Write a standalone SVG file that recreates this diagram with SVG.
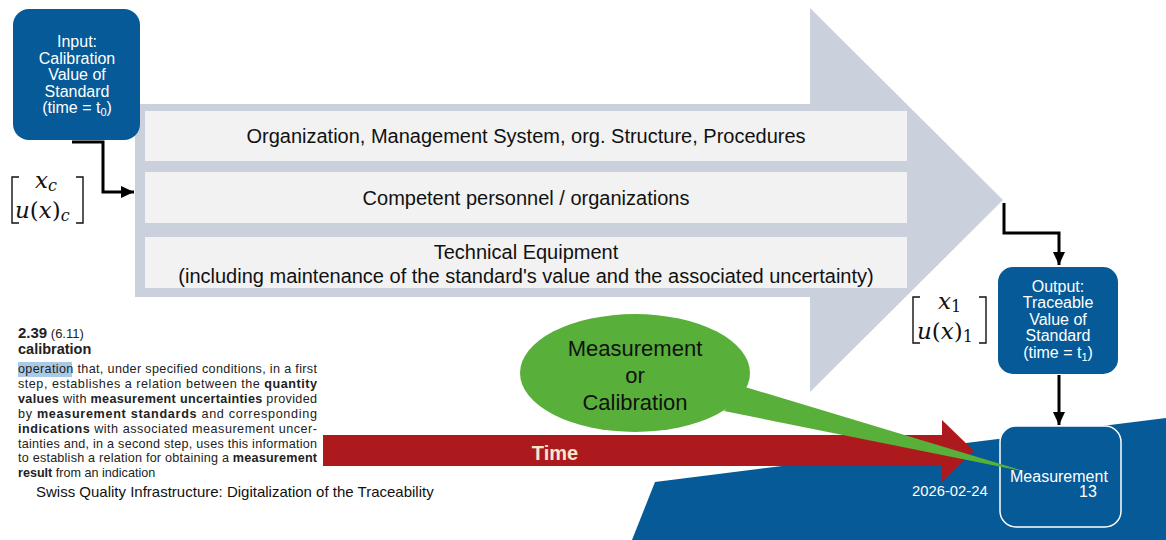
<svg xmlns="http://www.w3.org/2000/svg" width="1166" height="540" viewBox="0 0 1166 540">
<defs>
<style>
.sans{font-family:"Liberation Sans",Arial,sans-serif}
.math{font-family:"DejaVu Serif","Liberation Serif",serif;font-style:italic;font-size:23px;fill:#111}
.up{font-style:normal}
.box{fill:#055A97}
.wt{fill:#fff;font-size:16px;text-anchor:middle}
.bar{fill:#F2F2F2}
.bt{fill:#111;font-size:20px;text-anchor:middle}
.conn{fill:none;stroke:#000;stroke-width:3}
.brk{fill:none;stroke:#111;stroke-width:1.4}
.def{font-size:12.6px;fill:#222}
.b{font-weight:bold}
</style>
<marker id="ah" markerUnits="userSpaceOnUse" markerWidth="14" markerHeight="14" viewBox="0 0 14 14" refX="13" refY="7" orient="auto">
<path d="M0,1 L13,7 L0,13 Z" fill="#000"/>
</marker>
</defs>
<rect width="1166" height="540" fill="#fff"/>

<g id="background">
<polygon points="655,482 1166,418 1166,540 632,540" fill="#055A97"/>
</g>

<g id="process-arrow">
<polygon points="135,104 810,104 810,8 1003,200 810,392 810,297 135,297" fill="#CAD0DC"/>
</g>

<g id="bar-organization">
<rect class="bar" x="145" y="111" width="762" height="50"/>
<text class="sans bt" x="526" y="143">Organization, Management System, org. Structure, Procedures</text>
</g>
<g id="bar-personnel">
<rect class="bar" x="145" y="172" width="762" height="51"/>
<text class="sans bt" x="526" y="205">Competent personnel / organizations</text>
</g>
<g id="bar-equipment">
<rect class="bar" x="145" y="237" width="762" height="51"/>
<text class="sans bt" x="526" y="259">Technical Equipment</text>
<text class="sans bt" x="526" y="283">(including maintenance of the standard's value and the associated uncertainty)</text>
</g>

<g id="input-node">
<rect class="box" x="13" y="9" width="127" height="131" rx="16"/>
<text class="sans wt" x="77" y="47">Input:</text>
<text class="sans wt" x="77" y="64">Calibration</text>
<text class="sans wt" x="77" y="80">Value of</text>
<text class="sans wt" x="77" y="97">Standard</text>
<text class="sans wt" x="77" y="113">(time = t<tspan font-size="11" dy="3">0</tspan><tspan dy="-3">)</tspan></text>
</g>

<g id="input-matrix">
<path class="brk" d="M19,177 H12 V223 H19 M76,177 H83 V223 H76"/>
<text class="math" x="35" y="188">x<tspan font-size="16" dy="3">c</tspan></text>
<text class="math" x="15" y="218">u<tspan class="up">(</tspan>x<tspan class="up">)</tspan><tspan font-size="16" dy="3">c</tspan></text>
</g>

<g id="output-node">
<rect class="box" x="998" y="267" width="120" height="107" rx="15"/>
<text class="sans wt" x="1058" y="292">Output:</text>
<text class="sans wt" x="1058" y="308">Traceable</text>
<text class="sans wt" x="1058" y="325">Value of</text>
<text class="sans wt" x="1058" y="341">Standard</text>
<text class="sans wt" x="1058" y="358">(time = t<tspan font-size="11" dy="3">1</tspan><tspan dy="-3">)</tspan></text>
</g>

<g id="output-matrix">
<path class="brk" d="M920,297 H913 V343 H920 M979,297 H986 V343 H979"/>
<text class="math" x="938" y="309">x<tspan class="up" font-size="16" dy="3">1</tspan></text>
<text class="math" x="917" y="339">u<tspan class="up">(</tspan>x<tspan class="up">)</tspan><tspan class="up" font-size="16" dy="3">1</tspan></text>
</g>

<g id="measurement-node">
<rect x="1000" y="426" width="121" height="101" rx="16" fill="#055A97" stroke="#fff" stroke-width="1.5"/>
</g>

<g id="time-arrow">
<polygon points="323,435 942,435 942,420 974,451 942,482 942,466 323,466" fill="#AD1A1E"/>
<text class="sans b" x="555" y="460" font-size="20" fill="#F6E7CC" text-anchor="middle">Time</text>
</g>

<g id="callout">
<polygon points="745,387 1027,472 724,411" fill="#58AF3A"/>
<ellipse cx="635" cy="373" rx="115" ry="59" fill="#58AF3A"/>
<text class="sans" x="635" y="356" font-size="22" fill="#111" text-anchor="middle">Measurement</text>
<text class="sans" x="635" y="383" font-size="22" fill="#111" text-anchor="middle">or</text>
<text class="sans" x="635" y="410" font-size="22" fill="#111" text-anchor="middle">Calibration</text>
</g>

<g id="measurement-label">
<text class="sans" x="1010" y="482" font-size="16" fill="#fff">Measurement</text>
<text class="sans" x="1079" y="497" font-size="16" fill="#fff">13</text>
</g>

<g id="connectors">
<path class="conn" d="M72,142 H103 V192 H134" marker-end="url(#ah)"/>
<path class="conn" d="M1004,203 V233 H1059 V265" marker-end="url(#ah)"/>
<path class="conn" d="M1059,375 V425" marker-end="url(#ah)"/>
</g>

<g id="definition">
<rect x="18" y="362" width="54" height="15" fill="#A9C9E6"/>
<text class="sans" x="18" y="338" fill="#222"><tspan class="b" font-size="15">2.39</tspan><tspan font-size="13"> (6.11)</tspan></text>
<text class="sans b" x="18" y="354" font-size="14.5" fill="#222">calibration</text>
<text class="sans def" x="18" y="373" textLength="299" lengthAdjust="spacing">operation that, under specified conditions, in a first</text>
<text class="sans def" x="18" y="388" textLength="299" lengthAdjust="spacing">step, establishes a relation between the <tspan class="b">quantity</tspan></text>
<text class="sans def" x="18" y="403" textLength="299" lengthAdjust="spacing"><tspan class="b">values</tspan> with <tspan class="b">measurement uncertainties</tspan> provided</text>
<text class="sans def" x="18" y="418" textLength="299" lengthAdjust="spacing">by <tspan class="b">measurement standards</tspan> and corresponding</text>
<text class="sans def" x="18" y="433" textLength="299" lengthAdjust="spacing"><tspan class="b">indications</tspan> with associated measurement uncer-</text>
<text class="sans def" x="18" y="448" textLength="299" lengthAdjust="spacing">tainties and, in a second step, uses this information</text>
<text class="sans def" x="18" y="462" textLength="299" lengthAdjust="spacing">to establish a relation for obtaining a <tspan class="b">measurement</tspan></text>
<text class="sans def" x="18" y="477"><tspan class="b">result</tspan> from an indication</text>
</g>

<g id="footer">
<text class="sans" x="36" y="497" font-size="15" fill="#111">Swiss Quality Infrastructure: Digitalization of the Traceability</text>
<text class="sans" x="912" y="496" font-size="14.8" fill="#fff">2026-02-24</text>
</g>
</svg>
